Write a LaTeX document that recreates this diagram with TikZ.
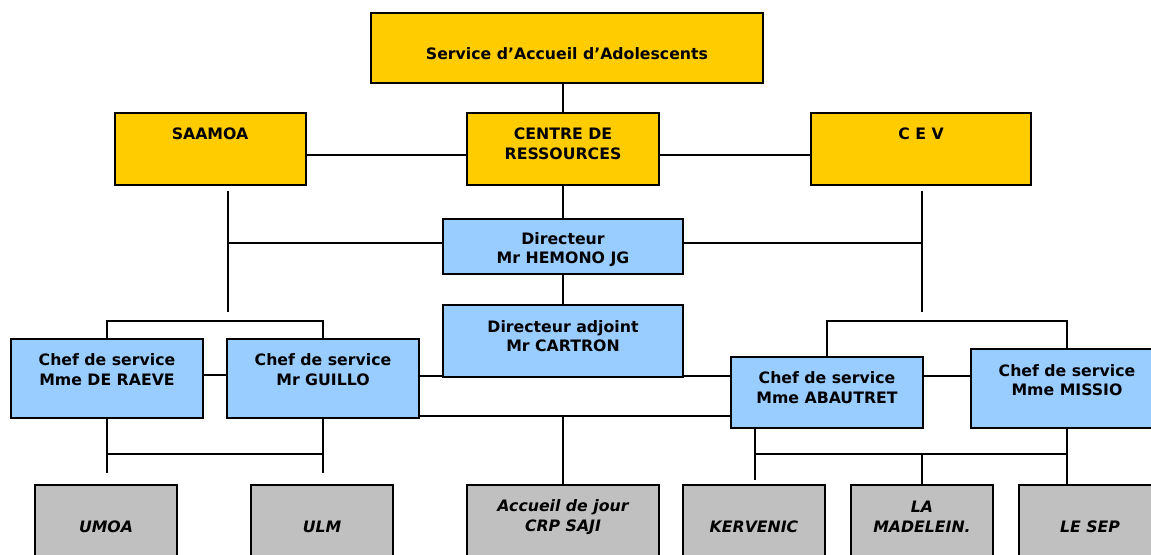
\documentclass[tikz,border=0pt]{standalone}
\usepackage{fontspec}
\setmainfont{DejaVu Sans}
\usetikzlibrary{fit}
\definecolor{gold}{HTML}{FFCC00}
\definecolor{sky}{HTML}{99CCFF}
\definecolor{greybox}{HTML}{C0C0C0}
\tikzset{
  base/.style={draw=black, line width=1.6pt, inner sep=0pt},
  goldbox/.style={base, fill=gold},
  bluebox/.style={base, fill=sky},
  greyb/.style={base, fill=greybox},
  lbl/.style={font=\fontsize{11.8}{14.8}\selectfont\bfseries, align=center, inner sep=0pt},
  ilbl/.style={font=\fontsize{11.8}{14.8}\selectfont\bfseries\itshape, align=center, inner sep=0pt},
  link/.style={line width=1.6pt, draw=black}
}
\begin{document}
\begin{tikzpicture}[x=0.75pt, y=-0.75pt]
\useasboundingbox (0,0) rectangle (1151,554);
\clip (0,0) rectangle (1151,554);
\fill[white] (0,0) rectangle (1151,554);
% boxes
\node[goldbox, fit={(371,13) (763,83)}] (top) {};
\node[goldbox, fit={(115,113) (306,185)}] (saamoa) {};
\node[goldbox, fit={(467,113) (659,185)}] (cdr) {};
\node[goldbox, fit={(811,113) (1031,185)}] (cev) {};
\node[bluebox, fit={(443,219) (683,274)}] (dir) {};
\node[bluebox, fit={(443,305) (683,377)}] (adj) {};
\node[bluebox, fit={(11,339) (203,418)}] (raeve) {};
\node[bluebox, fit={(227,339) (419,418)}] (guillo) {};
\node[bluebox, fit={(731,357) (923,428)}] (abautret) {};
\node[bluebox, fit={(971,349) (1163,428)}] (missio) {};
\node[greyb, fit={(35,485) (177,575)}] (umoa) {};
\node[greyb, fit={(251,485) (393,575)}] (ulm) {};
\node[greyb, fit={(467,485) (659,575)}] (crp) {};
\node[greyb, fit={(683,485) (825,575)}] (kervenic) {};
\node[greyb, fit={(851,485) (993,575)}] (lamad) {};
\node[greyb, fit={(1019,485) (1161,575)}] (lesep) {};
% texts
\node[lbl] (ttop) at (567,54) {Service d’Accueil d’Adolescents};
\node[lbl] (tsaamoa) at (210,134) {SAAMOA};
\node[lbl] (tcdr) at (563,144) {CENTRE DE\\RESSOURCES};
\node[lbl] (tcev) at (921,134) {C E V};
\node[lbl] (tdir) at (563,249.5) {Directeur\\Mr HEMONO JG};
\node[lbl] (tadj) at (563,336) {Directeur adjoint\\Mr CARTRON};
\node[lbl] (traeve) at (107,369.5) {Chef de service\\Mme DE RAEVE};
\node[lbl] (tguillo) at (323,369.5) {Chef de service\\Mr GUILLO};
\node[lbl] (tabautret) at (827,387.5) {Chef de service\\Mme ABAUTRET};
\node[lbl] (tmissio) at (1067,380) {Chef de service\\Mme MISSIO};
\node[ilbl] (tumoa) at (106,527) {UMOA};
\node[ilbl] (tulm) at (322,527) {ULM};
\node[ilbl] (tcrp) at (563,517) {Accueil de jour\\CRP SAJI};
\node[ilbl] (tkervenic) at (754,527) {KERVENIC};
\node[ilbl] (tlamad) at (922,517) {LA\\MADELEIN.};
\node[ilbl] (tlesep) at (1090,527) {LE SEP};
% free-end coordinates
\coordinate (sa1) at (228,191);
\coordinate (sa2) at (228,312);
\coordinate (ce1) at (922,191);
\coordinate (ce2) at (922,312);
\coordinate (lb1) at (107,473);
\coordinate (lb2) at (323,473);
\coordinate (ab1) at (755,480);
% connectors
\draw[link] (cdr.north -| 563,0) -- (top.south -| 563,0);
\draw[link] (saamoa.east |- 0,155) -- (cdr.west |- 0,155);
\draw[link] (cdr.east |- 0,155) -- (cev.west |- 0,155);
\draw[link] (cdr.south) -- (dir.north);
\draw[link] (sa1) -- (sa2);
\draw[link] (ce1) -- (ce2);
\draw[link] (dir.west |- 0,243) -- (sa1 |- 0,243);
\draw[link] (dir.east |- 0,243) -- (ce1 |- 0,243);
\draw[link] (dir.south) -- (adj.north);
\draw[link] (raeve.north) -- (raeve.north |- 0,321) -- (guillo.north |- 0,321) -- (guillo.north);
\draw[link] (raeve.east |- 0,375) -- (guillo.west |- 0,375);
\draw[link] (guillo.east |- 0,376) -- (adj.west |- 0,376);
\draw[link] (adj.east |- 0,376) -- (abautret.west |- 0,376);
\draw[link] (guillo.east |- 0,416) -- (abautret.west |- 0,416);
\draw[link] (crp.north) -- (crp.north |- 0,416);
\draw[link] (abautret.east |- 0,376) -- (missio.west |- 0,376);
\draw[link] (abautret.north) -- (abautret.north |- 0,321) -- (missio.north |- 0,321) -- (missio.north);
\draw[link] (abautret.south -| ab1) -- (ab1);
\draw[link] (ab1 |- 0,454) -- (missio.south |- 0,454);
\draw[link] (lamad.north) -- (lamad.north |- 0,454);
\draw[link] (missio.south) -- (missio.south |- lesep.north);
\draw[link] (raeve.south) -- (lb1);
\draw[link] (guillo.south) -- (lb2);
\draw[link] (lb1 |- 0,454) -- (lb2 |- 0,454);
\end{tikzpicture}
\end{document}
